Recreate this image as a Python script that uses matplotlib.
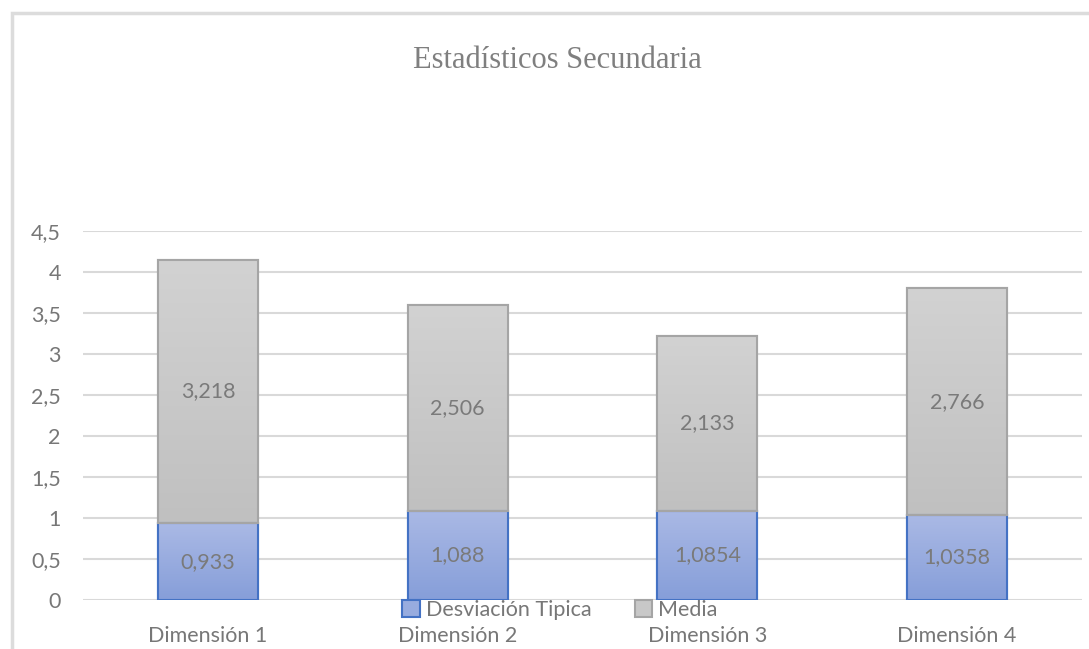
import matplotlib
matplotlib.use("Agg")
import matplotlib.pyplot as plt
import numpy as np
from matplotlib.patches import Rectangle, Patch
from matplotlib.colors import LinearSegmentedColormap

categories = ["Dimensión 1", "Dimensión 2", "Dimensión 3", "Dimensión 4"]
desviacion = [0.933, 1.088, 1.0854, 1.0358]
media = [3.218, 2.506, 2.133, 2.766]
desv_labels = ["0,933", "1,088", "1,0854", "1,0358"]
media_labels = ["3,218", "2,506", "2,133", "2,766"]
yticks = [0, 0.5, 1, 1.5, 2, 2.5, 3, 3.5, 4, 4.5]
ytick_labels = ["0", "0,5", "1", "1,5", "2", "2,5", "3", "3,5", "4", "4,5"]

plt.rcParams['font.family'] = ['Lato', 'DejaVu Sans']

W, H = 1089, 649
fig = plt.figure(figsize=(W / 100, H / 100), dpi=100)
ax = fig.add_axes([83 / W, 1 - 600 / H, (1082 - 83) / W, (600 - 231) / H])

x = np.arange(len(categories))
bw = 0.4
b1 = ax.bar(x, desviacion, bw, color="#98acdf", edgecolor="#4472c4", linewidth=1.5, zorder=3,
            label="Desviación Tipica")
b2 = ax.bar(x, media, bw, bottom=desviacion, color="#c8c8c8", edgecolor="#a5a5a5", linewidth=1.5,
            zorder=3, label="Media")

blue_cmap = LinearSegmentedColormap.from_list("b", ["#869ed9", "#aab9e5"])
grey_cmap = LinearSegmentedColormap.from_list("g", ["#c0c0c0", "#d2d2d2"])
grad = np.linspace(0, 1, 256).reshape(-1, 1)
for bars, cmap in ((b1, blue_cmap), (b2, grey_cmap)):
    for p in bars:
        x0, y0 = p.get_x(), p.get_y()
        w, h = p.get_width(), p.get_height()
        im = ax.imshow(grad, cmap=cmap, origin="lower", aspect="auto",
                       extent=[x0, x0 + w, y0, y0 + h], zorder=3.5)
        im.set_clip_path(p)
        r = Rectangle((x0, y0), w, h, fill=False, edgecolor=p.get_edgecolor(),
                      linewidth=1.5, zorder=4)
        ax.add_patch(r)

for i in range(len(categories)):
    ax.text(x[i], desviacion[i] / 2, desv_labels[i], ha="center", va="center",
            fontsize=15.5, color="#7a7a7a", zorder=5)
    ax.text(x[i], desviacion[i] + media[i] / 2, media_labels[i], ha="center", va="center",
            fontsize=15.5, color="#7a7a7a", zorder=5)

ax.set_xlim(-0.5, len(categories) - 0.5)
ax.set_ylim(0, 4.5)
ax.set_yticks(yticks)
ax.set_yticklabels(ytick_labels)
ax.set_xticks(x)
ax.set_xticklabels(categories)
ax.grid(axis="y", color="#d9d9d9", linewidth=1.5, zorder=0)
ax.set_axisbelow(True)
for s in ax.spines.values():
    s.set_visible(False)
ax.tick_params(axis="both", length=0, labelsize=15.5, labelcolor="#777777")
ax.tick_params(axis="x", pad=19)
ax.tick_params(axis="y", pad=16)

fig.text(557 / W, 1 - 61 / H, "Estadísticos Secundaria", ha="center", va="center",
         fontsize=22, color="#7f7f7f", family="Liberation Serif")

handles = [Patch(facecolor="#98acdf", edgecolor="#4472c4", linewidth=1.5),
           Patch(facecolor="#c8c8c8", edgecolor="#a5a5a5", linewidth=1.5)]
leg = fig.legend(handles, ["Desviación Tipica", "Media"], loc="center",
                 bbox_to_anchor=(560 / W, 1 - 610 / H), ncol=2, frameon=False,
                 fontsize=15.5, handlelength=0.8, handleheight=0.8, handletextpad=0.3,
                 columnspacing=2.0, labelcolor="#777777", borderpad=0)

border = Rectangle((12 / W, -0.1), 1.2, 1 - 13 / H + 0.1, transform=fig.transFigure,
                   fill=False, edgecolor="#dcdcdc", linewidth=2.5, zorder=10)
fig.add_artist(border)

fig.savefig("out.png", dpi=100)
